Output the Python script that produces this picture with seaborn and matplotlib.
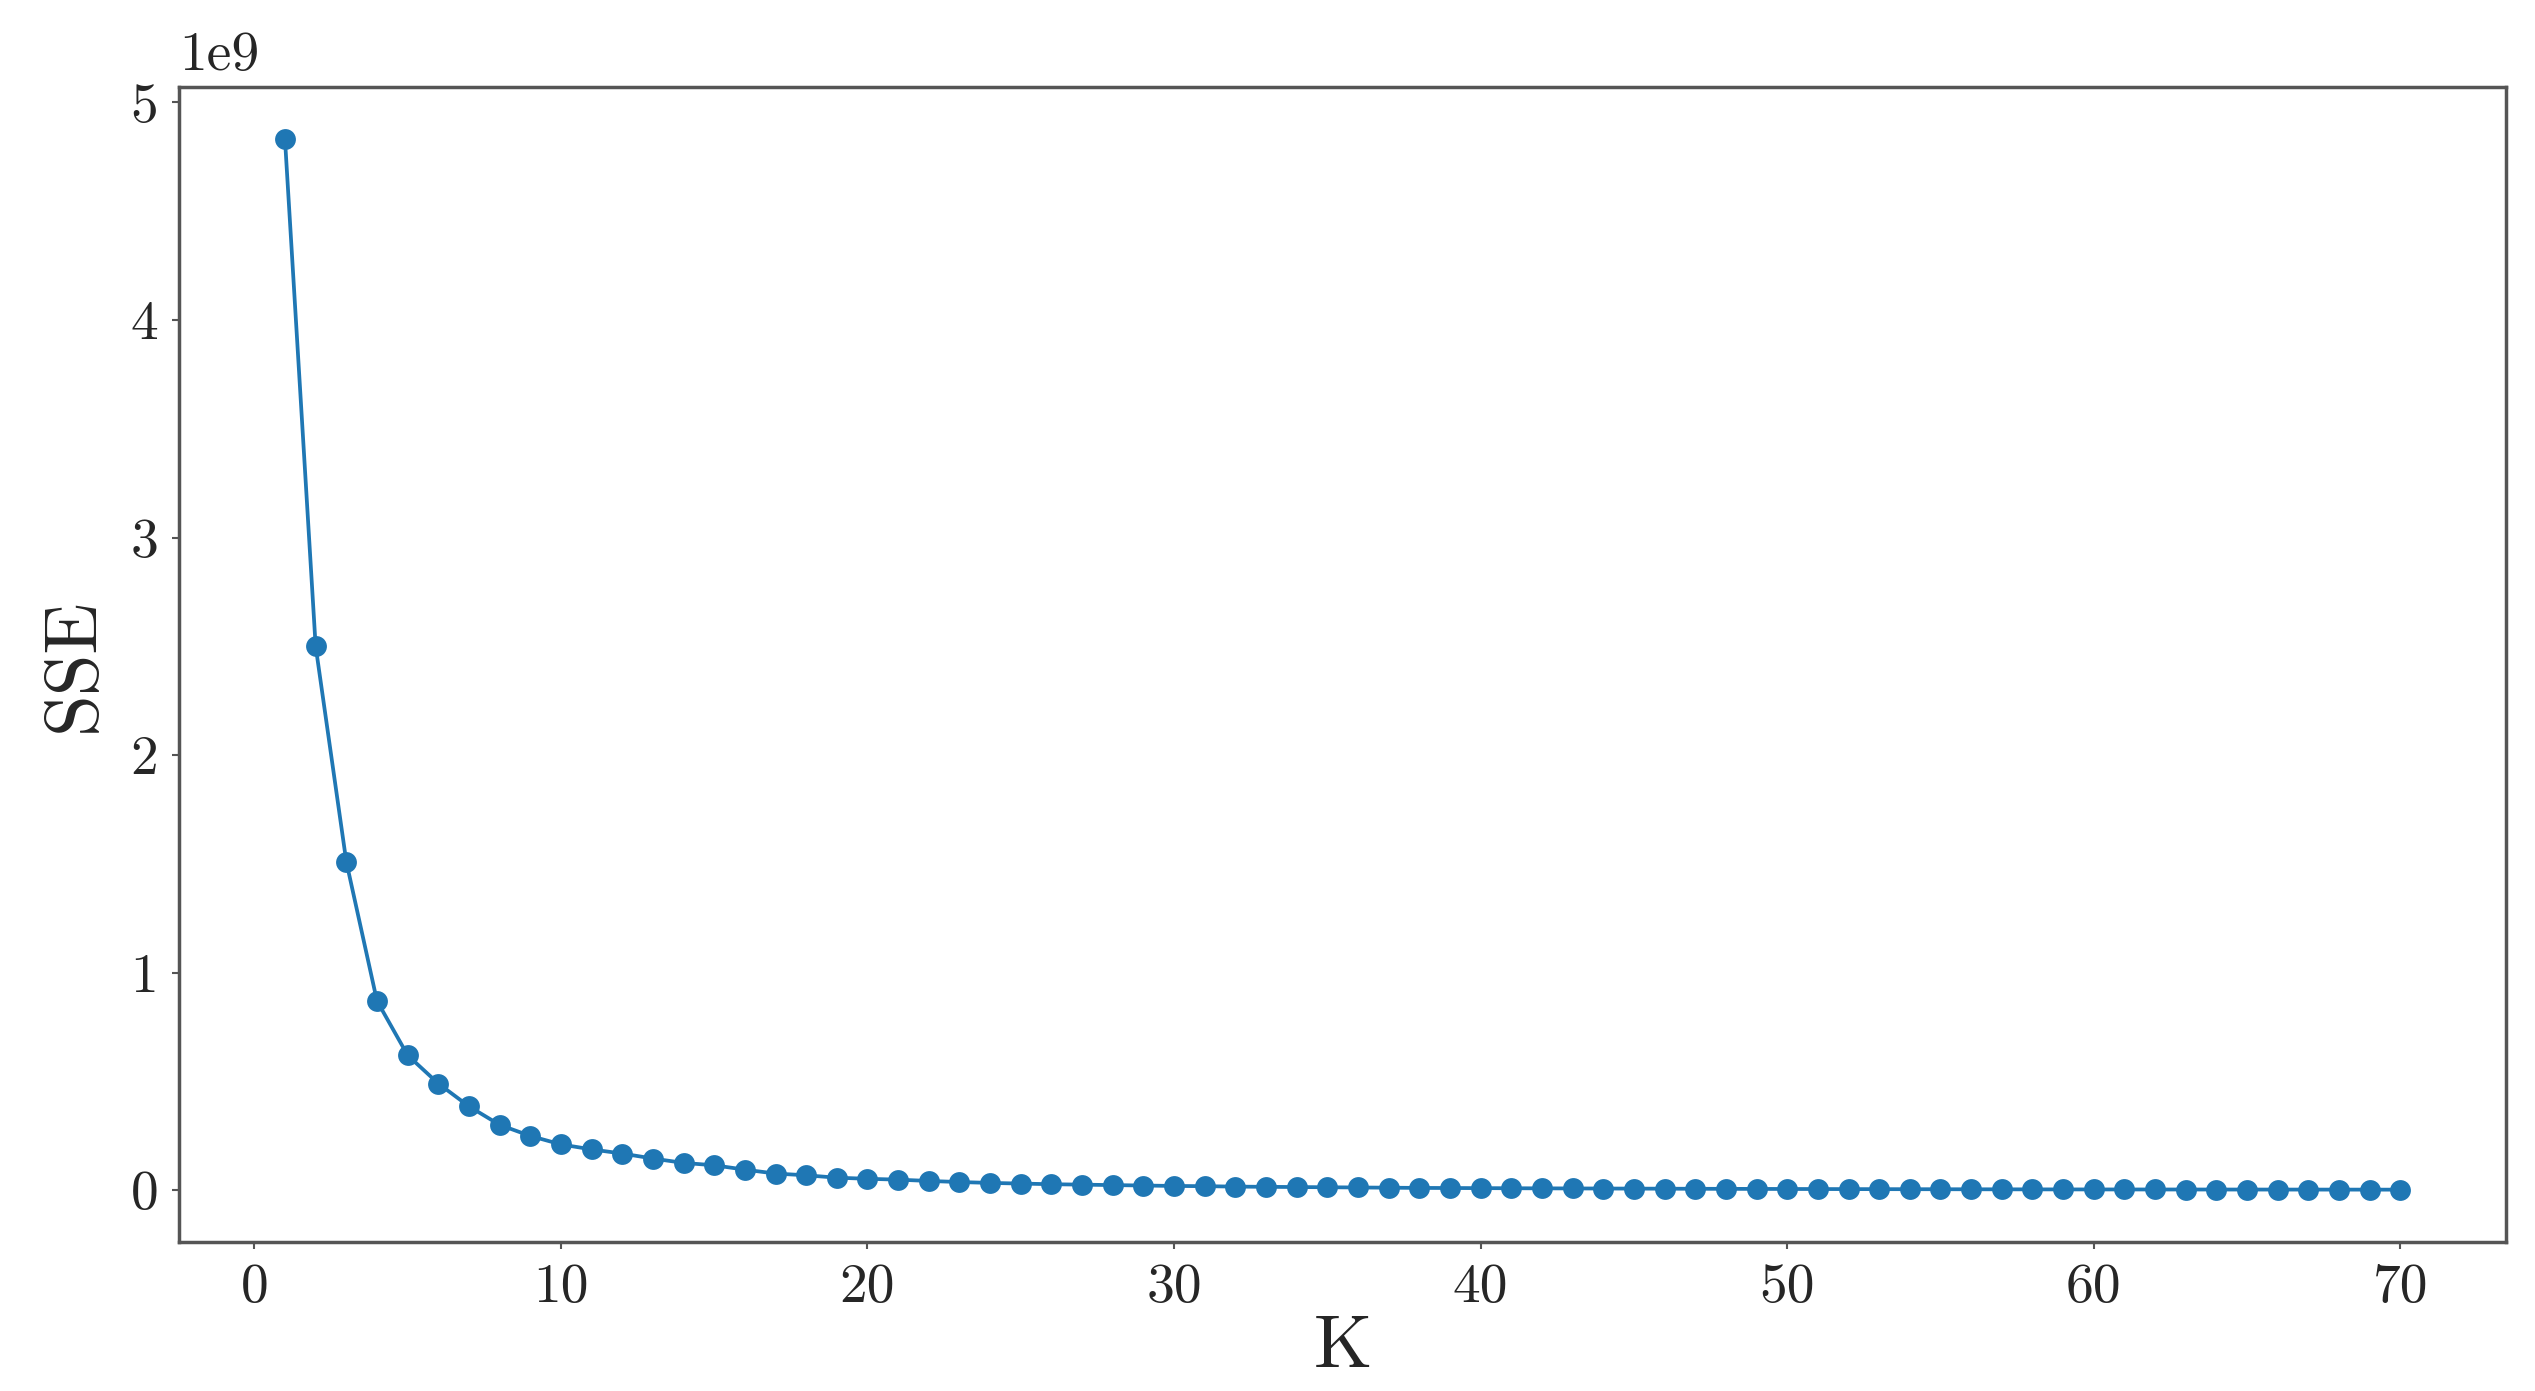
import numpy as np
import pandas as pd
import seaborn as sns
import matplotlib.pyplot as plt

# elbow curve: K vs SSE (units of 1e9)
k_values = list(range(1, 71))
sse_values = [
    4.83, 2.50, 1.51, 0.87, 0.62, 0.49, 0.385, 0.30, 0.249, 0.21,
    0.187, 0.168, 0.145, 0.125, 0.114, 0.094, 0.076, 0.068, 0.057, 0.052,
    0.048, 0.042, 0.037, 0.033, 0.030, 0.027, 0.025, 0.023, 0.021, 0.019,
    0.018, 0.016, 0.015, 0.014, 0.013, 0.012, 0.011, 0.010, 0.0095, 0.009,
    0.0085, 0.008, 0.0076, 0.0072, 0.0068, 0.0064, 0.006, 0.0057, 0.0054, 0.0051,
    0.0048, 0.0045, 0.0043, 0.0041, 0.0039, 0.0037, 0.0035, 0.0033, 0.0031, 0.0030,
    0.0029, 0.0028, 0.0027, 0.0026, 0.0025, 0.0024, 0.0023, 0.0022, 0.0021, 0.0020,
]
x_label = 'K'
y_label = 'SSE'

sns.set_style('ticks')
plt.rcParams['font.family'] = ['cmr10', 'DejaVu Serif']
plt.rcParams['axes.formatter.use_mathtext'] = False
plt.rcParams['axes.unicode_minus'] = False

df = pd.DataFrame({'K': k_values, 'SSE': np.array(sse_values) * 1e9})

fig, ax = plt.subplots(figsize=(25.35, 13.91), dpi=100)
sns.lineplot(data=df, x='K', y='SSE', marker='o', color='#1f77b4',
             linewidth=2.7, markersize=15, markeredgewidth=0, ax=ax)

ax.set_xlabel(x_label, fontsize=54, labelpad=2)
ax.set_ylabel(y_label, fontsize=54, labelpad=16)
ax.set_xticks(np.arange(0, 71, 10))
ax.set_yticks(np.arange(0, 5.1, 1) * 1e9)
ax.tick_params(axis='both', labelsize=40, length=5, width=1.5, color='#555555', pad=10)
ax.yaxis.OFFSETTEXTPAD = 12
ax.yaxis.get_offset_text().set_fontsize(40)

for side in ['top', 'right', 'left', 'bottom']:
    ax.spines[side].set_visible(True)
    ax.spines[side].set_color('#555555')
    ax.spines[side].set_linewidth(2.5)

fig.subplots_adjust(left=0.0707, right=0.9886, top=0.9375, bottom=0.107)
plt.savefig('out.png', dpi=100)
